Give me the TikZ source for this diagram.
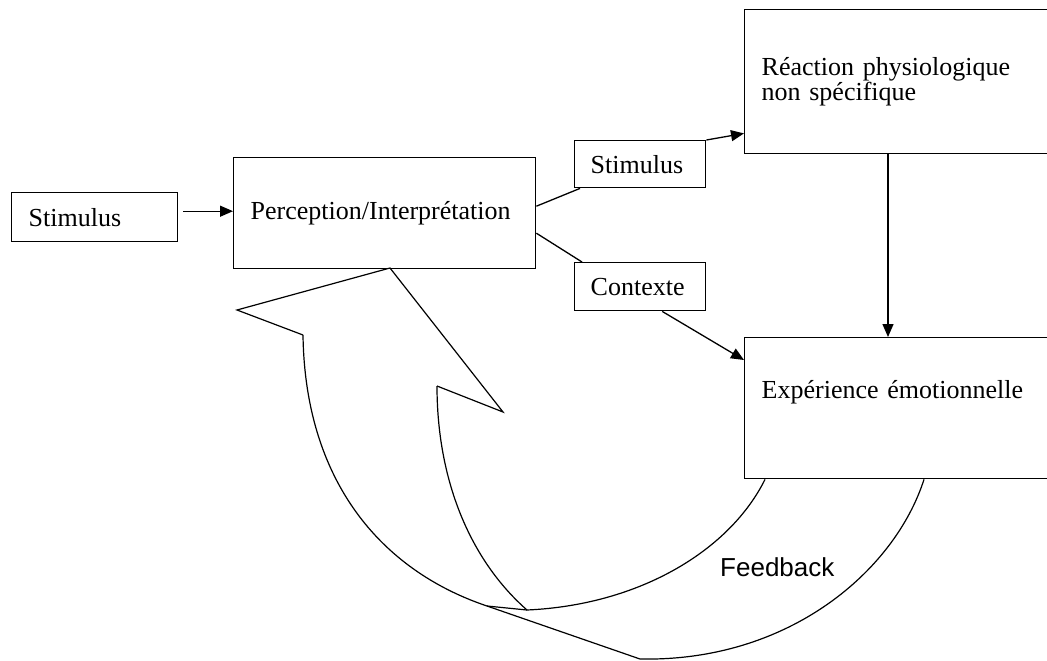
\documentclass[tikz,border=0pt]{standalone}
\usepackage{fontspec}
\setmainfont{Liberation Serif}
\newfontfamily\sansfont{Liberation Sans}
\usepackage{tikz}
\usetikzlibrary{arrows.meta}
\tikzstyle{boite}=[draw,line width=1.4pt,anchor=north west,align=left,inner xsep=17pt,inner ysep=0pt,font=\fontsize{26}{23}\selectfont]
\tikzstyle{fl}=[line width=1.3pt,-{Triangle[length=13pt,width=11pt]}]
\tikzstyle{ruban}=[line width=1.2pt,line join=miter]

\begin{document}
\begin{tikzpicture}[x=1pt,y=-1pt]
	\useasboundingbox (0,0) rectangle (1047,661);
	\clip (0,0) rectangle (1047,661);
	\node[boite,text width=132pt,minimum height=49pt] (S) at (11,192) {Stimulus};
	\node[boite,text width=268pt,minimum height=111pt] (P) at (233,157) {Perception/Interprétation};
	\node[boite,inner xsep=16pt,text width=99pt,minimum height=47pt] (SB) at (574,140) {Stimulus};
	\node[boite,inner xsep=16pt,text width=99pt,minimum height=48pt] (C) at (574,262) {Contexte};
	\node[boite,text width=286pt,minimum height=144pt] (R) at (744,9) {Réaction physiologique\\non spécifique};
	\node[boite,text width=286pt,minimum height=141pt,text height=18pt,text depth=37pt] (E) at (744,337) {Expérience émotionnelle};
	\draw[fl] ([xshift=5pt,yshift=6pt]S.east) -- ([yshift=6pt]S.east -| P.west);
	\draw[line width=1.3pt] ([yshift=7pt]P.east) -- ([xshift=6pt]SB.south west);
	\draw[fl] (SB.north east) -- ([yshift=21pt]R.south west);
	\draw[line width=1.3pt] ([yshift=-20pt]P.east) -- ([xshift=8pt]C.north west);
	\draw[fl] ([xshift=22pt]C.south) -- ([yshift=-23pt]E.north west);
	\draw[fl] ([xshift=144pt]R.south west) -- ([xshift=144pt]E.north west);
	\coordinate (pointe) at (390,268);
	\coordinate (barbeG) at (237,310);
	\coordinate (creuxG) at (303,335);
	\coordinate (barbeD) at (503,412);
	\coordinate (creuxD) at (437,386);
	\coordinate (croix) at (487,606);
	\coordinate (jonc) at (527,610);
	\coordinate (bas) at (640,659);
	\draw[ruban] (creuxG) -- (barbeG) -- (pointe) -- (barbeD) -- (creuxD);
	\draw[ruban] (creuxG) .. controls (305,480) and (380,570) .. (croix) -- (bas)
		.. controls (790,662) and (895,570) .. ([xshift=180pt]E.south west);
	\draw[ruban] (creuxD) .. controls (437,480) and (470,560) .. (jonc)
		.. controls (640,605) and (730,550) .. ([xshift=21pt]E.south west);
	\draw[ruban] (croix) -- (jonc);
	\node[anchor=base west,inner sep=0pt,font=\sansfont\fontsize{26}{26}\selectfont] (F) at (720,576) {Feedback};
\end{tikzpicture}
\end{document}
